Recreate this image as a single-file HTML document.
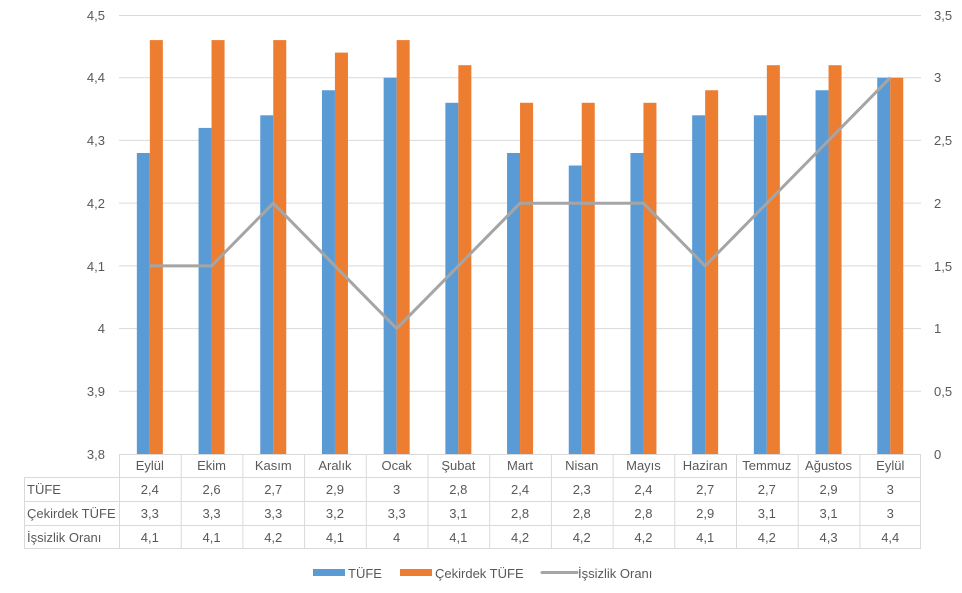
<!DOCTYPE html>
<html><head><meta charset="utf-8"><style>
body{margin:0;background:#fff}
svg{display:block;font-family:"Liberation Sans",sans-serif;font-size:13px;fill:#595959}
</style></head><body>
<svg width="962" height="593" viewBox="0 0 962 593">
<g stroke="#d9d9d9" stroke-width="1">
<line x1="119" x2="921" y1="15.5" y2="15.5"/><line x1="119" x2="921" y1="77.7" y2="77.7"/>
<line x1="119" x2="921" y1="140.4" y2="140.4"/><line x1="119" x2="921" y1="203.1" y2="203.1"/>
<line x1="119" x2="921" y1="265.9" y2="265.9"/><line x1="119" x2="921" y1="328.6" y2="328.6"/>
<line x1="119" x2="921" y1="391.3" y2="391.3"/>
</g>
<g text-anchor="end">
<text x="105" y="20">4,5</text><text x="105" y="82">4,4</text><text x="105" y="145">4,3</text><text x="105" y="208">4,2</text><text x="105" y="271">4,1</text><text x="105" y="333">4</text><text x="105" y="396">3,9</text><text x="105" y="459">3,8</text>
</g>
<g>
<text x="934" y="20">3,5</text><text x="934" y="82">3</text><text x="934" y="145">2,5</text><text x="934" y="208">2</text><text x="934" y="271">1,5</text><text x="934" y="333">1</text><text x="934" y="396">0,5</text><text x="934" y="459">0</text>
</g>
<g fill="#5b9bd5">
<rect x="136.85" y="153" width="13" height="301"/><rect x="198.55" y="127.9" width="13" height="326.1"/>
<rect x="260.25" y="115.3" width="13" height="338.7"/><rect x="321.95" y="90.25" width="13" height="363.75"/>
<rect x="383.65" y="77.7" width="13" height="376.3"/><rect x="445.35" y="102.8" width="13" height="351.2"/>
<rect x="507.05" y="153" width="13" height="301"/><rect x="568.75" y="165.5" width="13" height="288.5"/>
<rect x="630.45" y="153" width="13" height="301"/><rect x="692.15" y="115.3" width="13" height="338.7"/>
<rect x="753.85" y="115.3" width="13" height="338.7"/><rect x="815.55" y="90.25" width="13" height="363.75"/>
<rect x="877.25" y="77.7" width="13" height="376.3"/>
</g>
<g fill="#ed7d31">
<rect x="149.85" y="40.1" width="13" height="413.9"/><rect x="211.55" y="40.1" width="13" height="413.9"/>
<rect x="273.25" y="40.1" width="13" height="413.9"/><rect x="334.95" y="52.6" width="13" height="401.4"/>
<rect x="396.65" y="40.1" width="13" height="413.9"/><rect x="458.35" y="65.2" width="13" height="388.8"/>
<rect x="520.05" y="102.8" width="13" height="351.2"/><rect x="581.75" y="102.8" width="13" height="351.2"/>
<rect x="643.45" y="102.8" width="13" height="351.2"/><rect x="705.15" y="90.25" width="13" height="363.75"/>
<rect x="766.85" y="65.2" width="13" height="388.8"/><rect x="828.55" y="65.2" width="13" height="388.8"/>
<rect x="890.25" y="77.7" width="13" height="376.3"/>
</g>
<polyline fill="none" stroke="#a5a5a5" stroke-width="3" stroke-linejoin="round" points="149.85,265.9 211.55,265.9 273.25,203.2 334.95,265.9 396.65,328.6 458.35,265.9 520.05,203.2 581.75,203.2 643.45,203.2 705.15,265.9 766.85,203.2 828.55,140.5 890.25,77.7"/>
<g stroke="#d9d9d9" stroke-width="1" fill="none">
<line x1="119" x2="921" y1="454.5" y2="454.5"/>
<line x1="24" x2="921" y1="477.5" y2="477.5"/><line x1="24" x2="921" y1="501.5" y2="501.5"/>
<line x1="24" x2="921" y1="525.5" y2="525.5"/><line x1="24" x2="921" y1="548.5" y2="548.5"/>
<line x1="24.5" x2="24.5" y1="477" y2="549"/>
<line x1="119.5" x2="119.5" y1="454" y2="549"/><line x1="181.2" x2="181.2" y1="454" y2="549"/>
<line x1="242.9" x2="242.9" y1="454" y2="549"/><line x1="304.6" x2="304.6" y1="454" y2="549"/>
<line x1="366.3" x2="366.3" y1="454" y2="549"/><line x1="428" x2="428" y1="454" y2="549"/>
<line x1="489.7" x2="489.7" y1="454" y2="549"/><line x1="551.4" x2="551.4" y1="454" y2="549"/>
<line x1="613.1" x2="613.1" y1="454" y2="549"/><line x1="674.8" x2="674.8" y1="454" y2="549"/>
<line x1="736.5" x2="736.5" y1="454" y2="549"/><line x1="798.2" x2="798.2" y1="454" y2="549"/>
<line x1="859.9" x2="859.9" y1="454" y2="549"/><line x1="920.5" x2="920.5" y1="454" y2="549"/>
</g>
<g text-anchor="middle">
<text x="149.85" y="470">Eylül</text><text x="211.55" y="470">Ekim</text><text x="273.25" y="470">Kasım</text><text x="334.95" y="470">Aralık</text><text x="396.65" y="470">Ocak</text><text x="458.35" y="470">Şubat</text><text x="520.05" y="470">Mart</text><text x="581.75" y="470">Nisan</text><text x="643.45" y="470">Mayıs</text><text x="705.15" y="470">Haziran</text><text x="766.85" y="470">Temmuz</text><text x="828.55" y="470">Ağustos</text><text x="890.25" y="470">Eylül</text>
<text x="149.85" y="494">2,4</text><text x="211.55" y="494">2,6</text><text x="273.25" y="494">2,7</text><text x="334.95" y="494">2,9</text><text x="396.65" y="494">3</text><text x="458.35" y="494">2,8</text><text x="520.05" y="494">2,4</text><text x="581.75" y="494">2,3</text><text x="643.45" y="494">2,4</text><text x="705.15" y="494">2,7</text><text x="766.85" y="494">2,7</text><text x="828.55" y="494">2,9</text><text x="890.25" y="494">3</text>
<text x="149.85" y="518">3,3</text><text x="211.55" y="518">3,3</text><text x="273.25" y="518">3,3</text><text x="334.95" y="518">3,2</text><text x="396.65" y="518">3,3</text><text x="458.35" y="518">3,1</text><text x="520.05" y="518">2,8</text><text x="581.75" y="518">2,8</text><text x="643.45" y="518">2,8</text><text x="705.15" y="518">2,9</text><text x="766.85" y="518">3,1</text><text x="828.55" y="518">3,1</text><text x="890.25" y="518">3</text>
<text x="149.85" y="542">4,1</text><text x="211.55" y="542">4,1</text><text x="273.25" y="542">4,2</text><text x="334.95" y="542">4,1</text><text x="396.65" y="542">4</text><text x="458.35" y="542">4,1</text><text x="520.05" y="542">4,2</text><text x="581.75" y="542">4,2</text><text x="643.45" y="542">4,2</text><text x="705.15" y="542">4,1</text><text x="766.85" y="542">4,2</text><text x="828.55" y="542">4,3</text><text x="890.25" y="542">4,4</text>
</g>
<text x="27" y="494">TÜFE</text><text x="27" y="518">Çekirdek TÜFE</text><text x="27" y="542">İşsizlik Oranı</text>
<rect x="313" y="569" width="32" height="7" fill="#5b9bd5"/><text x="348" y="578">TÜFE</text>
<rect x="400" y="569" width="32" height="7" fill="#ed7d31"/><text x="435" y="578">Çekirdek TÜFE</text>
<line x1="542" x2="577" y1="572.5" y2="572.5" stroke="#a5a5a5" stroke-width="3" stroke-linecap="round"/><text x="578" y="578">İşsizlik Oranı</text>
</svg>
</body></html>
